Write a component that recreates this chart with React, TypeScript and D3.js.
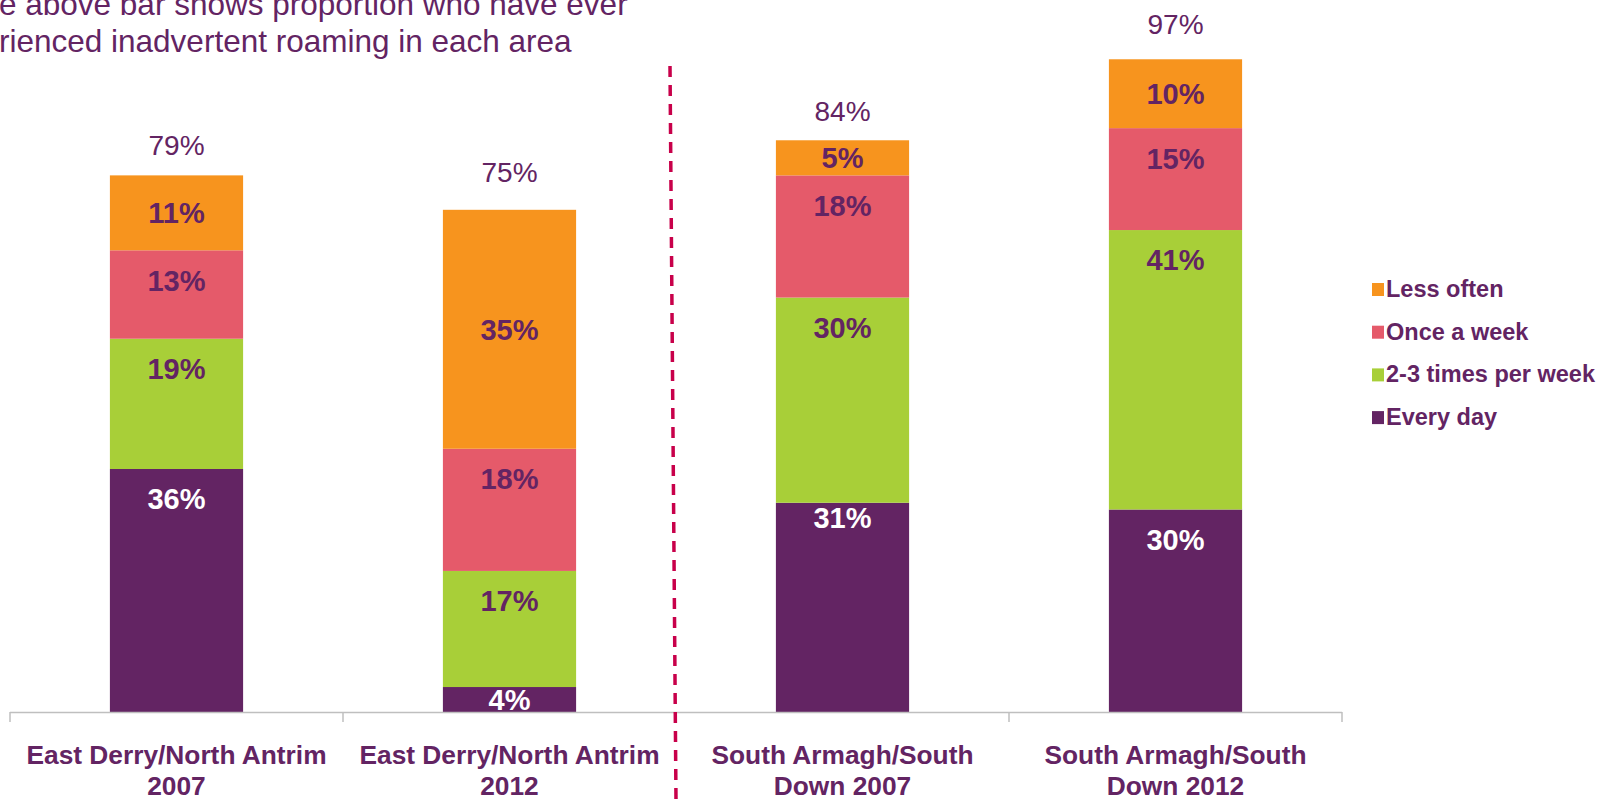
import React from "react";
import * as d3 from "d3";

const categories = [
  ["East Derry/North Antrim", "2007"],
  ["East Derry/North Antrim", "2012"],
  ["South Armagh/South", "Down 2007"],
  ["South Armagh/South", "Down 2012"],
];
const seriesNames = ["Every day", "2-3 times per week", "Once a week", "Less often"];
const everyDay = [36.0, 3.7, 31.0, 30.0];
const twoThreeWeek = [19.3, 17.2, 30.4, 41.4];
const onceWeek = [13.1, 18.1, 18.1, 15.1];
const lessOften = [11.1, 35.4, 5.2, 10.2];
const totals = [79, 75, 84, 97];
const titleLines = [
  "e above bar shows proportion who have ever",
  "rienced inadvertent roaming in each area",
];

const COLORS = ["#632463", "#A8CF38", "#E55A6A", "#F7941E"];
const PURPLE = "#632463";
const FONT = "'Liberation Sans', Arial, sans-serif";

export default function App() {
  const W = 1610;
  const H = 800;
  const x = d3
    .scaleBand<number>()
    .domain(categories.map((_, i) => i))
    .range([10, 1342])
    .paddingInner(0.6)
    .paddingOuter(0.3);
  const y = d3.scaleLinear().domain([0, 100]).range([712, 37]);

  const series = [everyDay, twoThreeWeek, onceWeek, lessOften];
  const rows = categories.map((_, i) => ({
    i,
    v0: everyDay[i],
    v1: twoThreeWeek[i],
    v2: onceWeek[i],
    v3: lessOften[i],
  }));
  const stacked = d3.stack<any>().keys(["v0", "v1", "v2", "v3"])(rows);

  const step = x.step();
  const boundaries = d3.range(categories.length + 1).map(
    (k) => (x(0) as number) - step * x.paddingOuter() + k * step
  );

  // label position nudges (px) for special cases
  const nudge: Record<string, number> = { "2-0": -15 };

  const legendOrder = [3, 2, 1, 0];

  return (
    <svg
      width={W}
      height={H}
      style={{ position: "absolute", left: 0, top: 0, display: "block", background: "#fff" }}
      fontFamily={FONT}
    >
      {/* title */}
      {titleLines.map((t, k) => (
        <text key={k} x={-1} y={15 + k * 37} fontSize={31.5} fill={PURPLE}>
          {t}
        </text>
      ))}

      {/* bars */}
      {stacked.map((layer, si) => (
        <g key={si}>
          {layer.map((d, ci) => (
            <rect
              key={ci}
              x={x(ci)}
              width={x.bandwidth()}
              y={y(d[1])}
              height={y(d[0]) - y(d[1])}
              fill={COLORS[si]}
            />
          ))}
        </g>
      ))}

      {/* segment labels */}
      {stacked.map((layer, si) =>
        layer.map((d, ci) => {
          const top = y(d[1]);
          const bot = y(d[0]);
          const center = (top + bot) / 2;
          let cy = si === 3 ? center : Math.min(top + 30, center);
          cy += nudge[`${ci}-${si}`] || 0;
          return (
            <text
              key={`${si}-${ci}`}
              x={(x(ci) as number) + x.bandwidth() / 2}
              y={cy}
              dy="0.36em"
              textAnchor="middle"
              fontSize={29}
              fontWeight="bold"
              fill={si === 0 ? "#fff" : PURPLE}
            >
              {Math.round(series[si][ci])}%
            </text>
          );
        })
      )}

      {/* totals */}
      {totals.map((t, ci) => (
        <text
          key={ci}
          x={(x(ci) as number) + x.bandwidth() / 2}
          y={y(t + 5)}
          dy="0.36em"
          textAnchor="middle"
          fontSize={28}
          fill={PURPLE}
        >
          {t}%
        </text>
      ))}

      {/* axis */}
      <line x1={boundaries[0]} x2={boundaries[boundaries.length - 1]} y1={712.5} y2={712.5} stroke="#BFBFBF" strokeWidth={1.5} />
      {boundaries.map((b, k) => (
        <line key={k} x1={b} x2={b} y1={712} y2={722} stroke="#BFBFBF" strokeWidth={1.5} />
      ))}
      {categories.map((c, ci) => (
        <text
          key={ci}
          x={(x(ci) as number) + x.bandwidth() / 2}
          textAnchor="middle"
          fontSize={26.3}
          fontWeight="bold"
          fill={PURPLE}
        >
          <tspan x={(x(ci) as number) + x.bandwidth() / 2} y={764}>{c[0]}</tspan>
          <tspan x={(x(ci) as number) + x.bandwidth() / 2} y={795}>{c[1]}</tspan>
        </text>
      ))}

      {/* divider */}
      <line x1={670} y1={66} x2={676} y2={800} stroke="#C8004A" strokeWidth={3.5} strokeDasharray="11 8" />

      {/* legend */}
      {legendOrder.map((si, k) => (
        <g key={si} transform={`translate(1372, ${297 + k * 42.7})`}>
          <rect x={0} y={-14} width={12} height={13} fill={COLORS[si]} />
          <text x={14} y={0} fontSize={23.5} fontWeight="bold" fill={PURPLE}>
            {seriesNames[si]}
          </text>
        </g>
      ))}
    </svg>
  );
}
